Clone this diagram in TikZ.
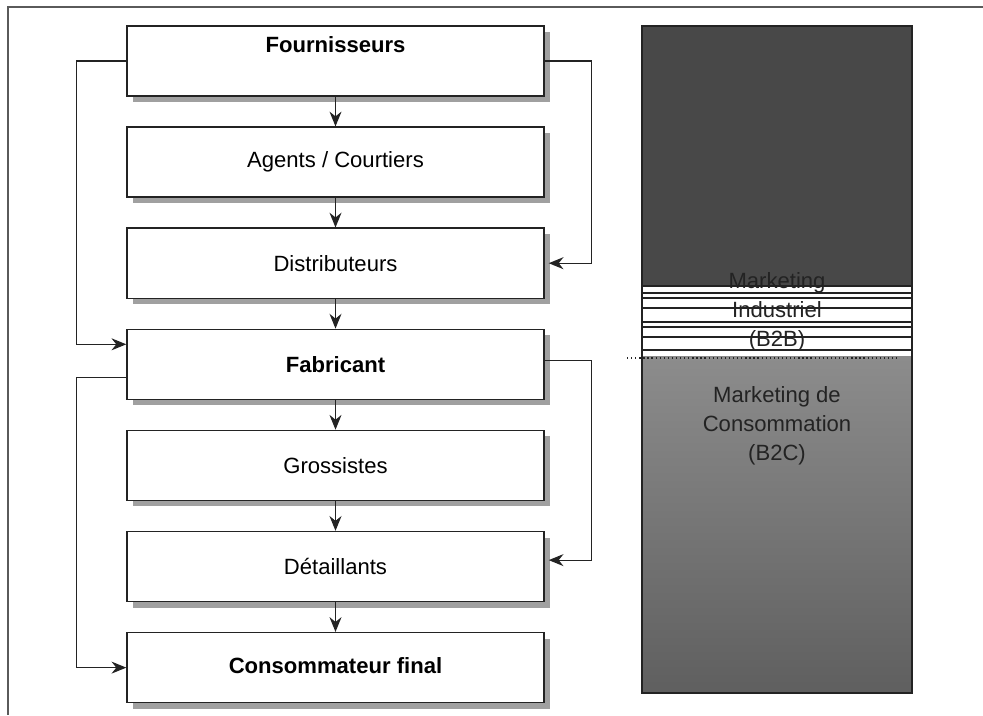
\documentclass[tikz,border=0pt]{standalone}
\usepackage{fontspec}
\setmainfont{Liberation Sans}
\usetikzlibrary{arrows.meta,positioning,shadows}
\definecolor{Ink}{RGB}{35,35,35}
\definecolor{FrameGray}{RGB}{90,90,90}
\definecolor{ShadowGray}{RGB}{160,160,160}
\definecolor{BarDark}{RGB}{72,72,72}
\definecolor{BarMid}{RGB}{140,140,140}
\definecolor{BarLow}{RGB}{95,95,95}
\newcommand\diagfont{\fontsize{15.7}{20.6}\selectfont}
\tikzset{
  >=Stealth,
  box/.style={draw=Ink,line width=1pt,fill=white,text=black,font=\diagfont,minimum width=10.425cm,minimum height=1.75cm,inner sep=0pt,
    drop shadow={shadow xshift=0.15cm,shadow yshift=-0.15cm,fill=ShadowGray,opacity=1}},
  keybox/.style={box,font=\diagfont\bfseries},
  flow/.style={-{Stealth[length=3.7mm,width=3mm]},line width=0.8pt,draw=Ink},
  frame/.style={line width=0.9pt,draw=FrameGray},
  bandline/.style={line width=1.2pt,draw=Ink},
  marklabel/.style={font=\diagfont,text=Ink,align=center}
}
\begin{document}
\begin{tikzpicture}[x=1cm,y=1cm,node distance=0.7425cm]
  \useasboundingbox (0,0) rectangle (24.575,17.875);
  \draw[frame] (24.575,17.7) -- (0.2,17.7) -- (0.2,0);

  % chain of actors
  \node[keybox] (four) at (8.3875,16.35) {\raisebox{0.84cm}{Fournisseurs}};
  \node[box,below=of four] (agents) {\raisebox{-0.3cm}{Agents / Courtiers}};
  \node[box,below=of agents] (distr) {\raisebox{-0.2cm}{Distributeurs}};
  \node[keybox,below=of distr] (fab) {\raisebox{-0.1cm}{Fabricant}};
  \node[box,below=of fab] (gros) {Grossistes};
  \node[box,below=of gros] (det) {\raisebox{-0.1cm}{D\'etaillants}};
  \node[keybox,below=of det] (conso) {\raisebox{0.1cm}{Consommateur final}};

  \draw[flow] (four) -- (agents);
  \draw[flow] (agents) -- (distr);
  \draw[flow] (distr) -- (fab);
  \draw[flow] (fab) -- (gros);
  \draw[flow] (gros) -- (det);
  \draw[flow] (det) -- (conso);

  % bypass links
  \draw[flow] (four.west) -- ++(-1.25,0) |- ([yshift=0.5cm]fab.west);
  \draw[flow] ([yshift=-0.32cm]fab.west) -- ++(-1.25,0) |- (conso.west);
  \draw[flow] (four.east) -- ++(1.175,0) |- ([xshift=0.1cm]distr.east);
  \draw[flow] ([yshift=0.1cm]fab.east) -- ++(1.175,0) |- ([xshift=0.1cm,yshift=0.16cm]det.east);

  % market bar
  \fill[BarDark] (16.05,10.75) rectangle (22.8,17.225);
  \shade[top color=BarMid,bottom color=BarLow] (16.05,0.55) rectangle (22.8,8.95);
  \draw[bandline] (16.05,10.725) -- (22.8,10.725) (16.05,10.55) -- (22.8,10.55)
    (16.05,10.425) -- (22.8,10.425) (16.05,10.175) -- (22.8,10.175)
    (16.05,9.825) -- (22.8,9.825) (16.05,9.7) -- (22.8,9.7)
    (16.05,9.45) -- (22.8,9.45) (16.05,9.125) -- (22.8,9.125);
  \draw[line width=1pt,draw=Ink] (16.05,0.55) rectangle (22.8,17.225);
  \node[marklabel] (b2b) at (19.425,10.075) {Marketing\\Industriel\\(B2B)};
  \node[marklabel] (b2c) at (19.425,7.225) {Marketing de\\Consommation\\(B2C)};
  \draw[dotted,line width=0.9pt,draw=Ink] (15.675,8.925) -- (22.5,8.925);
\end{tikzpicture}
\end{document}
